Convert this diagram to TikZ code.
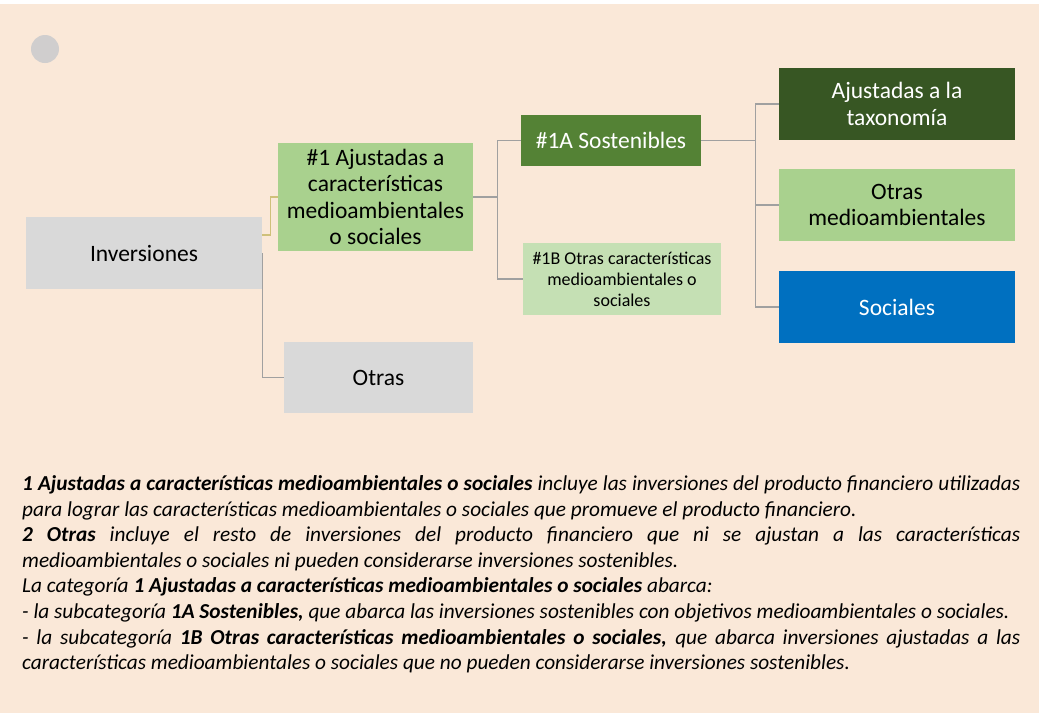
\documentclass[tikz,border=0pt]{standalone}
\usepackage{fontspec}
\setmainfont{Carlito}
\usetikzlibrary{calc}
\definecolor{bgc}{HTML}{FAE8D8}
\definecolor{grayb}{HTML}{D9D9D9}
\definecolor{lgreen}{HTML}{A9D18E}
\definecolor{mgreen}{HTML}{548235}
\definecolor{pgreen}{HTML}{C5E0B4}
\definecolor{dgreen}{HTML}{375623}
\definecolor{blueb}{HTML}{0070C0}
\definecolor{circc}{HTML}{D0CECE}
\definecolor{linec}{HTML}{A0A0A0}
\definecolor{yline}{HTML}{CFC07A}
\tikzset{
  box/.style={rectangle, inner sep=0pt, align=center, text=black,
    font=\fontsize{23.5}{26.5}\selectfont},
  smallbox/.style={box, font=\fontsize{18}{21}\selectfont},
  conn/.style={draw=linec, line width=1.4pt},
  yconn/.style={draw=yline, line width=1.4pt},
  note/.style={anchor=base west, inner sep=0pt, font=\fontsize{21.3}{24}\selectfont\itshape}
}
\begin{document}
\begin{tikzpicture}[x=1pt,y=-1pt]
\useasboundingbox (0,0) rectangle (1039,713);
\fill[white] (0,0) rectangle (1039,4);
\fill[bgc] (0,4) rectangle (1039,713);
\fill[circc] (45,49) circle (14);

\node[box, fill=grayb, minimum width=236, minimum height=72] (inv) at (144,253) {Inversiones};
\node[box, fill=lgreen, minimum width=195, minimum height=108] (a1) at (375.5,197) {\#1 Ajustadas a\\características\\medioambientales\\o sociales};
\node[box, fill=grayb, minimum width=189, minimum height=71] (otras) at (378.5,377.5) {Otras};
\node[box, fill=mgreen, text=white, minimum width=180, minimum height=51] (s1a) at (611,140.5) {\#1A Sostenibles};
\node[smallbox, fill=pgreen, minimum width=198, minimum height=72] (s1b) at (622,279) {\#1B Otras características\\medioambientales o\\sociales};
\node[box, fill=dgreen, text=white, minimum width=236, minimum height=72] (tax) at (897,104) {Ajustadas a la\\taxonomía};
\node[box, fill=lgreen, minimum width=236, minimum height=72] (om) at (897,205) {Otras\\medioambientales};
\node[box, fill=blueb, text=white, minimum width=236, minimum height=72] (soc) at (897,307) {Sociales};

\coordinate (y0) at ($(inv.north east)!0.25!(inv.south east)$);
\draw[yconn] (y0) -- ++(8,0) |- (a1.west);
\draw[conn] (inv.east) |- (otras.west);
\coordinate (j1) at ([xshift=24]a1.east);
\draw[conn] (a1.east) -- (j1) |- (s1a.west);
\draw[conn] (j1) |- (s1b.west);
\coordinate (j2) at ([xshift=54]s1a.east);
\draw[conn] (s1a.east) -- (j2) |- (tax.west);
\draw[conn] (j2) |- (om.west);
\draw[conn] (j2) |- (soc.west);

\node[note] (n1) at (22,490.5) {\makebox[998pt][s]{\textbf{1 Ajustadas a características medioambientales o sociales} incluye las inversiones del producto financiero utilizadas}};
\node[note] (n2) at (22,516.1) {para lograr las características medioambientales o sociales que promueve el producto financiero.};
\node[note] (n3) at (22,541.7) {\makebox[998pt][s]{\textbf{2 Otras} incluye el resto de inversiones del producto financiero que ni se ajustan a las características}};
\node[note] (n4) at (22,567.3) {medioambientales o sociales ni pueden considerarse inversiones sostenibles.};
\node[note] (n5) at (22,592.9) {La categoría \textbf{1 Ajustadas a características medioambientales o sociales} abarca:};
\node[note] (n6) at (22,618.5) {- la subcategoría \textbf{1A Sostenibles,} que abarca las inversiones sostenibles con objetivos medioambientales o sociales.};
\node[note] (n7) at (22,644.1) {\makebox[998pt][s]{- la subcategoría \textbf{1B Otras características medioambientales o sociales,} que abarca inversiones ajustadas a las}};
\node[note] (n8) at (22,669.7) {características medioambientales o sociales que no pueden considerarse inversiones sostenibles.};
\end{tikzpicture}
\end{document}
